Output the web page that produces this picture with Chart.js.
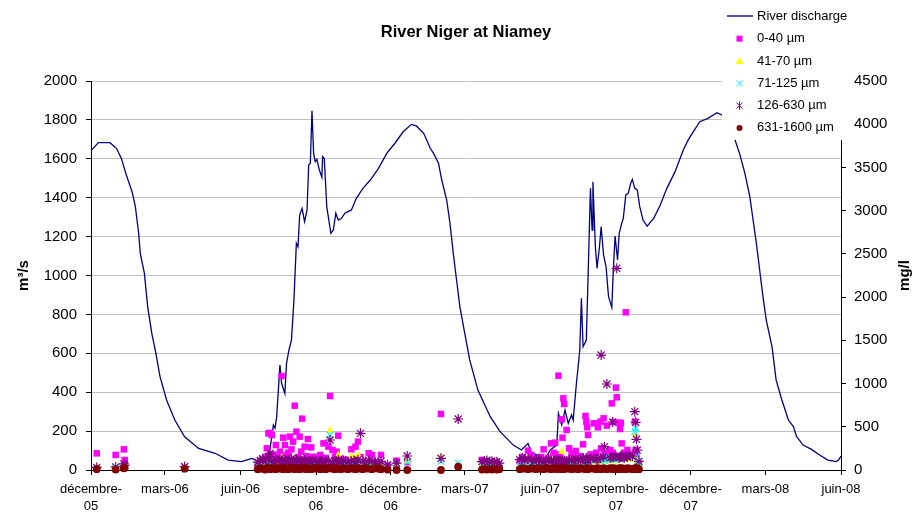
<!DOCTYPE html>
<html>
<head>
<meta charset="utf-8">
<script src="https://cdn.jsdelivr.net/npm/chart.js@4.4.0/dist/chart.umd.min.js"></script>
<style>
html, body { margin: 0; padding: 0; background: #fff; }
#wrap { width: 915px; height: 516px; }
</style>
</head>
<body>
<div id="wrap"><canvas id="myChart" width="915" height="516"></canvas></div>
<script>
// x axis = days since 1 December 2005
const tickDays = [0, 90, 182, 274, 365, 455, 547, 639, 730, 821, 913];
const tickLabels = [['décembre-', '05'], ['mars-06'], ['juin-06'], ['septembre-', '06'], ['décembre-', '06'],
    ['mars-07'], ['juin-07'], ['septembre-', '07'], ['décembre-', '07'], ['mars-08'], ['juin-08']];

// river discharge, m3/s
const flowDays = [0, 9, 23, 31, 37, 43, 50, 54, 58, 60, 65, 69, 74, 79, 84, 92, 102, 114, 131, 151, 167, 183, 196, 204,
    212, 218, 222, 224, 226, 230, 232, 236, 238, 241, 244, 247, 250, 252, 254, 257, 260, 263, 265, 267, 269, 271, 273,
    275, 278, 281, 282, 284, 287, 292, 295, 298, 301, 305, 309, 317, 323, 331, 340, 350, 360, 370, 380, 390, 396, 405,
    413, 417, 423, 427, 433, 437, 441, 445, 449, 455, 461, 471, 486, 498, 514, 524, 532, 536, 547, 553, 559, 567, 569,
    573, 577, 581, 585, 587, 591, 593, 595, 597, 599, 603, 608, 610, 611, 614, 616, 619, 621, 624, 627, 630, 634, 636,
    638, 641, 643, 646, 648, 651, 654, 657, 659, 662, 665, 668, 672, 677, 685, 693, 701, 711, 721, 727, 741, 751, 762,
    768, 775, 784, 790, 796, 802, 806, 810, 814, 818, 822, 829, 834, 841, 849, 855, 859, 867, 877, 887, 897, 907, 910, 913];
const flowValues = [1642, 1683, 1683, 1654, 1602, 1517, 1431, 1354, 1217, 1114, 1011, 840, 703, 600, 480, 360, 257, 171,
    111, 86, 51, 43, 60, 45, 55, 110, 231, 215, 272, 540, 446, 394, 548, 617, 668, 870, 1165, 1148, 1311, 1345, 1277,
    1337, 1568, 1577, 1847, 1628, 1585, 1597, 1542, 1505, 1611, 1602, 1354, 1217, 1234, 1320, 1285, 1294, 1320, 1337,
    1397, 1448, 1491, 1551, 1628, 1680, 1739, 1777, 1769, 1731, 1654, 1628, 1577, 1491, 1388, 1268, 1114, 977, 840, 703,
    566, 411, 274, 197, 128, 103, 137, 90, 70, 55, 103, 128, 291, 231, 308, 240, 283, 257, 450, 531, 617, 883, 634, 668,
    1448, 1234, 1482, 1148, 1037, 1148, 1251, 1105, 1045, 891, 836, 1045, 1203, 1080, 1217, 1268, 1294, 1414, 1422,
    1474, 1494, 1448, 1440, 1354, 1285, 1254, 1294, 1362, 1448, 1534, 1645, 1697, 1791, 1808, 1837, 1825, 1790, 1697,
    1620, 1525, 1405, 1285, 1165, 1028, 891, 771, 634, 463, 360, 257, 223, 171, 128, 106, 77, 51, 43, 51, 72];

// sediment samples, mg/l per grain size class
const sampleDays = [7, 30, 40, 41, 114,
    203, 206, 209, 212, 214, 216, 218, 220, 222, 225, 228, 230, 232, 234, 236, 238, 240, 242, 244, 246, 248, 250, 252,
    254, 256, 257, 260, 262, 264, 266, 268, 270, 273, 276, 279, 281, 283, 286, 289, 291, 294, 297, 299, 301, 304, 307,
    310, 313, 317, 320, 322, 325, 328, 331, 334, 338, 342, 346, 350, 353, 361, 372, 385,
    426, 447, 476, 479, 482, 485, 488, 491, 494, 497,
    522, 525, 528, 532, 536, 539, 542, 545, 548, 551, 554, 557, 560, 563, 565, 567, 569, 571, 573, 574, 575, 576, 579,
    582, 585, 588, 590, 593, 596, 599, 602, 603, 604, 605, 608, 612, 615, 617, 620, 621, 624, 625, 628, 632, 634, 635,
    636, 639, 640, 643, 644, 645, 646, 649, 651, 653, 656, 659, 662, 663, 664, 665, 667];
const fine0_40 = [193, 174, 239, 116, null,
    60, 80, 120, 150, 251, 424, 430, 405, 180, 289, 150, 212, 1087, 374, 289, 170, 200, 386, 239, 328, 744, 443, 150,
    386, 212, 594, 270, 160, 358, 140, 262, 154, 120, 150, 174, 130, 308, 140, 270, 856, 231, 150, 212, 397, 130, 100,
    120, 90, 239, 110, 270, 328, 150, 100, 80, 193, 174, 90, 80, 174, 50, 108, 90,
    648, null, 116, 90, 80, 70, 60, 50, 40, 30,
    100, 150, 120, 224, 174, 110, 130, 90, 150, 239, 120, 140, 308, 200, 316, 180, 1091, 150, 586, 374, 829, 764, 463,
    251, 185, 150, 220, 130, 160, 297, 625, 559, 494, 405, 180, 540, 200, 494, 559, 250, 598, 200, 513, 231, 771, 200,
    555, 953, 841, 548, 474, 543, 308, 200, 1824, 231, 180, 150, 559, 230, 180, 100, 80];
const silt41_70 = [40, 20, 45, 60, 25,
    30, 40, 35, 50, 45, 60, 40, 55, 70, 50, 60, 80, 147, 60, 45, 50, 40, 55, 60, 50, 45, 60, 70,
    50, 45, 55, 60, 50, 45, 55, 60, 50, 45, 55, 80, 60, 50, 45, 60, 455, 50, 60, 80, 174, 60, 50,
    70, 100, 162, 80, 60, 174, 120, 60, 50, 100, 60, 50, 60, 70, 40, 60, 100,
    154, 40, 50, 60, 40, 50, 40, 30, 35, 30,
    40, 50, 40, 50, 60, 45, 50, 60, 45, 80, 60, 100, 120, 70, 60, 80, 90, 100, 212, 100, 80, 70, 60,
    80, 100, 120, 80, 100, 90, 110, 90, 80, 100, 90, 100, 110, 90, 100, 120, 100, 110, 100, 120, 110, 130, 100,
    120, 130, 110, 120, 130, 120, 140, 130, 120, 140, 120, 130, 150, 405, 120, 100, 60];
const sand71_125 = [25, 15, 40, 50, 30,
    40, 30, 50, 40, 60, 50, 70, 45, 60, 40, 70, 60, 80, 50, 70, 40, 60, 50, 70, 45, 60, 50, 40,
    60, 50, 70, 40, 60, 50, 70, 40, 60, 50, 70, 60, 50, 40, 60, 70, 405, 60, 50, 60, 70, 50, 60,
    80, 60, 90, 60, 70, 80, 90, 70, 60, 80, 70, 60, 50, 60, 30, 70, 96,
    100, 80, 60, 70, 50, 60, 50, 40, 60, 40,
    50, 60, 50, 60, 50, 60, 50, 60, 50, 60, 70, 60, 80, 60, 70, 60, 70, 80, 90, 60, 70, 60, 70,
    60, 90, 80, 70, 90, 80, 100, 90, 80, 100, 110, 120, 100, 120, 130, 110, 120, 130, 110, 140, 120, 130, 140,
    120, 140, 130, 150, 140, 130, 150, 140, 160, 150, 140, 160, 443, 482, 162, 100, 80];
const sand126_630 = [30, 35, 70, 55, 40,
    90, 110, 130, 100, 120, 150, 193, 110, 90, 120, 100, 130, 110, 90, 120, 100, 90, 110, 130, 100, 90, 120, 100,
    110, 90, 100, 120, 90, 110, 100, 90, 120, 100, 90, 110, 100, 90, 110, 100, 347, 90, 110, 100, 120, 90, 110,
    100, 90, 100, 110, 90, 120, 424, 100, 90, 110, 100, 90, 80, 100, 60, 80, 162,
    135, 590, 96, 100, 110, 96, 100, 90, 96, 80,
    120, 140, 110, 130, 120, 100, 110, 130, 100, 90, 110, 120, 100, 110, 100, 120, 110, 100, 110, 100, 90, 110, 100,
    120, 110, 100, 130, 120, 110, 130, 120, 140, 110, 120, 130, 140, 120, 130, 140, 1330, 150, 270, 995, 140, 150, 555,
    150, 160, 2333, 140, 150, 160, 150, 140, 160, 150, 170, 160, 675, 551, 355, 231, 100];
const gravel631_1600 = [10, 5, 20, 25, 15,
    10, 20, 15, 5, 20, 25, 10, 15, 20, 10, 25, 15, 20, 10, 25, 15, 10, 20, 15, 25, 10, 20, 15,
    10, 20, 15, 25, 10, 20, 15, 10, 20, 15, 25, 10, 20, 15, 10, 25, 20, 15, 10, 20, 15, 10, 20,
    15, 10, 20, 15, 10, 20, 15, 10, 20, 15, 10, 20, 15, 10, 5, 0, 0,
    0, 38, 5, 10, 5, 10, 5, 10, 5, 10,
    10, 20, 15, 10, 20, 15, 10, 20, 15, 10, 20, 15, 10, 20, 15, 10, 20, 15, 10, 20, 15, 10, 20,
    15, 10, 20, 15, 10, 20, 15, 10, 20, 15, 10, 20, 15, 10, 20, 15, 10, 20, 15, 10, 20, 15, 10,
    20, 15, 10, 20, 15, 10, 20, 15, 10, 20, 15, 10, 20, 15, 10, 20, 10];

const FONT = "'Liberation Sans', Arial, sans-serif";
const navy = '#000080';

function toPoints(days, values) {
    const pts = [];
    days.forEach((d, i) => {
        if (values[i] !== null) pts.push({ x: d, y: values[i] });
    });
    return pts;
}

const legendItems = [
    { text: '0-40 µm', style: 'square', color: '#FF00FF' },
    { text: '41-70 µm', style: 'triangle', color: '#FFFF00' },
    { text: '71-125 µm', style: 'x', color: '#00FFFF' },
    { text: '126-630 µm', style: 'star', color: '#800080' },
    { text: '631-1600 µm', style: 'circle', color: '#800000' }
];

function drawMarker(ctx, style, color, x, y) {
    ctx.save();
    ctx.fillStyle = color;
    ctx.strokeStyle = color;
    ctx.lineWidth = 1;
    ctx.beginPath();
    if (style === 'square') {
        ctx.fillRect(x - 3, y - 3, 6, 6);
    } else if (style === 'triangle') {
        ctx.moveTo(x, y - 4);
        ctx.lineTo(x + 4, y + 3);
        ctx.lineTo(x - 4, y + 3);
        ctx.closePath();
        ctx.fill();
    } else if (style === 'x') {
        ctx.moveTo(x - 3, y - 3); ctx.lineTo(x + 3, y + 3);
        ctx.moveTo(x + 3, y - 3); ctx.lineTo(x - 3, y + 3);
        ctx.stroke();
    } else if (style === 'star') {
        ctx.moveTo(x - 3, y - 3); ctx.lineTo(x + 3, y + 3);
        ctx.moveTo(x + 3, y - 3); ctx.lineTo(x - 3, y + 3);
        ctx.moveTo(x, y - 4); ctx.lineTo(x, y + 4);
        ctx.stroke();
    } else {
        ctx.arc(x, y, 3, 0, Math.PI * 2);
        ctx.fill();
    }
    ctx.restore();
}

// titles and the legend box that sits over the top right of the plot
const overlayPlugin = {
    id: 'overlay',
    afterDraw(chart) {
        const ctx = chart.ctx;
        const area = chart.chartArea;
        ctx.save();
        ctx.fillStyle = '#000';
        ctx.textAlign = 'center';
        ctx.textBaseline = 'middle';
        ctx.font = 'bold 16.5px ' + FONT;
        ctx.fillText('River Niger at Niamey', (area.left + area.right) / 2, 32);

        ctx.font = 'bold 15px ' + FONT;
        ctx.save();
        ctx.translate(24, (area.top + area.bottom) / 2);
        ctx.rotate(-Math.PI / 2);
        ctx.fillText('m³/s', 0, 0);
        ctx.restore();

        ctx.save();
        ctx.translate(905, (area.top + area.bottom) / 2);
        ctx.rotate(-Math.PI / 2);
        ctx.fillText('mg/l', 0, 0);
        ctx.restore();

        // legend
        ctx.fillStyle = '#fff';
        ctx.fillRect(722, 0, 126, 140);
        ctx.font = '13px ' + FONT;
        ctx.textAlign = 'left';
        ctx.fillStyle = '#000';
        ctx.strokeStyle = navy;
        ctx.lineWidth = 1.3;
        ctx.beginPath();
        ctx.moveTo(727, 16);
        ctx.lineTo(753, 16);
        ctx.stroke();
        ctx.fillText('River discharge', 757, 16);
        legendItems.forEach((item, i) => {
            const y = 38.7 + i * 22.3;
            drawMarker(ctx, item.style, item.color, 739.5, y);
            ctx.fillStyle = '#000';
            ctx.fillText(item.text, 757, y);
        });
        ctx.restore();
    }
};

const ctx = document.getElementById('myChart').getContext('2d');
const chart = new Chart(ctx, {
    type: 'scatter',
    data: {
        datasets: [
            {
                type: 'line',
                label: 'River discharge',
                data: toPoints(flowDays, flowValues),
                yAxisID: 'y',
                borderColor: navy,
                borderWidth: 1.3,
                pointRadius: 0,
                tension: 0,
                fill: false,
                order: 6
            },
            {
                label: '0-40 µm',
                data: toPoints(sampleDays, fine0_40),
                yAxisID: 'y2',
                pointStyle: 'rect',
                pointRadius: 4.6,
                backgroundColor: '#FF00FF',
                borderColor: '#FF00FF',
                borderWidth: 0,
                clip: false,
                order: 5
            },
            {
                label: '41-70 µm',
                data: toPoints(sampleDays, silt41_70),
                yAxisID: 'y2',
                pointStyle: 'triangle',
                pointRadius: 4.3,
                backgroundColor: '#FFFF00',
                borderColor: '#FFFF00',
                borderWidth: 0,
                clip: false,
                order: 4
            },
            {
                label: '71-125 µm',
                data: toPoints(sampleDays, sand71_125),
                yAxisID: 'y2',
                pointStyle: 'crossRot',
                pointRadius: 4.6,
                borderColor: '#00FFFF',
                borderWidth: 1.2,
                clip: false,
                order: 3
            },
            {
                label: '126-630 µm',
                data: toPoints(sampleDays, sand126_630),
                yAxisID: 'y2',
                pointStyle: 'star',
                pointRadius: 5,
                borderColor: '#800080',
                borderWidth: 1.2,
                clip: false,
                order: 2
            },
            {
                label: '631-1600 µm',
                data: toPoints(sampleDays, gravel631_1600),
                yAxisID: 'y2',
                pointStyle: 'circle',
                pointRadius: 3.9,
                backgroundColor: '#800000',
                borderColor: '#800000',
                borderWidth: 0,
                clip: false,
                order: 1
            }
        ]
    },
    options: {
        responsive: false,
        animation: false,
        devicePixelRatio: 1,
        layout: { padding: { top: 81, left: 0, right: 0, bottom: 0 } },
        plugins: {
            legend: { display: false },
            title: { display: false },
            tooltip: { enabled: false }
        },
        scales: {
            x: {
                type: 'linear',
                min: 0,
                max: 913,
                afterBuildTicks: scale => { scale.ticks = tickDays.map(v => ({ value: v })); },
                afterFit: scale => { scale.height = 46; },
                grid: { drawOnChartArea: false, color: '#000', tickLength: 5 },
                border: { color: '#000' },
                ticks: {
                    autoSkip: false,
                    maxRotation: 0,
                    padding: 6,
                    color: '#000',
                    font: { family: FONT, size: 13, lineHeight: 1.3 },
                    callback: value => tickLabels[tickDays.indexOf(value)]
                }
            },
            y: {
                position: 'left',
                min: 0,
                max: 2000,
                afterFit: scale => { scale.width = 91; },
                grid: { color: '#c0c0c0', tickColor: '#000', tickLength: 5 },
                border: { color: '#000' },
                ticks: { stepSize: 200, padding: 9, color: '#000', font: { family: FONT, size: 15 }, callback: v => String(v) }
            },
            y2: {
                position: 'right',
                min: 0,
                max: 4500,
                afterFit: scale => { scale.width = 74; },
                grid: { drawOnChartArea: false, color: '#000', tickLength: 5 },
                border: { color: '#000' },
                ticks: { stepSize: 500, padding: 8, color: '#000', font: { family: FONT, size: 15 }, callback: v => String(v) }
            }
        }
    },
    plugins: [overlayPlugin]
});
</script>
</body>
</html>
